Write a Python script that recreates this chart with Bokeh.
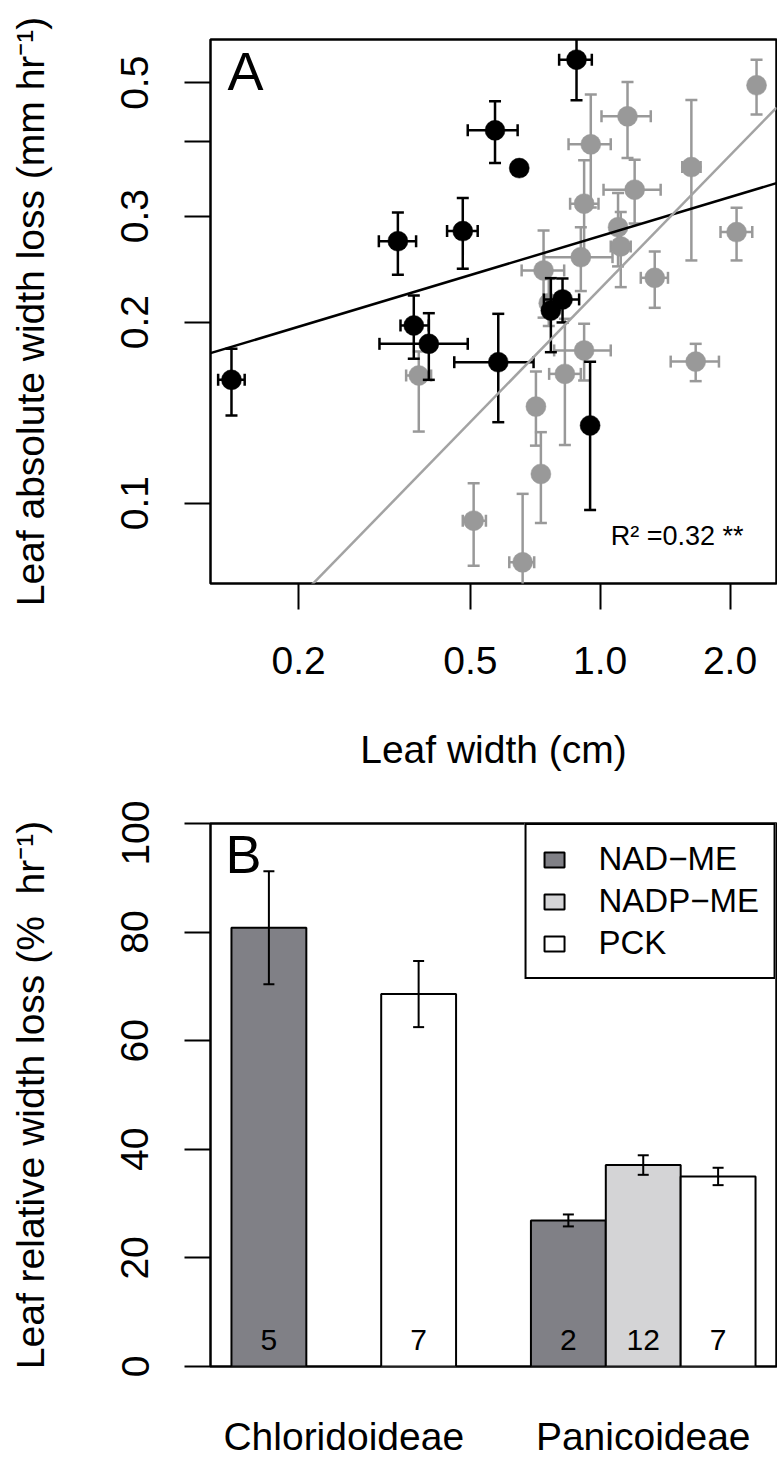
import math
from bokeh.plotting import figure
from bokeh.layouts import column
from bokeh.models import Range1d, FixedTicker, Label, Legend, LegendItem, ColumnDataSource
from bokeh.core.properties import value
from bokeh.embed import file_html
from bokeh.resources import INLINE

FONT = "Liberation Sans"

# ---------------- Panel A data ----------------
# Chloridoideae (black): leaf width (cm) and absolute width loss (mm/hr), with error limits
chl_width    = [0.1397, 0.3396, 0.4802, 0.5704, 0.6492, 0.8813, 0.3697, 0.4006, 0.5804, 0.8179, 0.7685, 0.9476]
chl_width_lo = [0.1301, 0.3068, 0.4416, 0.4931, None,   0.8032, 0.3444, 0.3078, 0.4589, 0.7404, None,   None]
chl_width_hi = [0.1499, 0.3743, 0.5200, 0.6436, None,   0.9563, 0.4006, 0.4931, 0.7007, 0.8936, None,   None]
chl_loss     = [0.1603, 0.2726, 0.2833, 0.4167, 0.3606, 0.5462, 0.1974, 0.1840, 0.1715, 0.2181, 0.2090, 0.1346]
chl_loss_lo  = [0.1398, 0.2397, 0.2453, 0.3676, None,   0.4674, 0.1738, 0.1603, 0.1363, 0.1997, 0.1782, 0.0974]
chl_loss_hi  = [0.1806, 0.3041, 0.3215, 0.4656, None,   0.6250, 0.2214, 0.2069, 0.2064, 0.2363, 0.2366, 0.1718]

# Panicoideae (grey)
pan_width    = [2.304, 1.157, 0.951, 1.627, 1.202, 0.9178, 2.071, 1.100, 1.116, 0.9018, 0.7391, 1.338,
                0.3797, 0.5089, 0.9178, 1.665, 0.8282, 0.7096, 0.7286, 0.6610, 0.7600]
pan_width_lo = [None, 1.007, 0.8446, 1.550, 1.018, 0.8517, 1.901, None, 1.058, 0.7415, 0.6575, 1.242,
                0.3549, 0.4802, 0.7821, 1.457, 0.7615, None, None, 0.6155, None]
pan_width_hi = [None, 1.310, 1.058, 1.709, 1.381, 0.9910, 2.252, None, 1.177, 1.068, 0.8251, 1.436,
                0.4055, 0.5434, 1.058, 1.885, 0.9018, None, None, 0.7031, None]
pan_loss     = [0.4952, 0.4396, 0.3949, 0.3620, 0.3320, 0.3147, 0.2822, 0.2876, 0.2672, 0.2564, 0.2437, 0.2369,
                0.1630, 0.0935, 0.1794, 0.1719, 0.1640, 0.1447, 0.1118, 0.0797, 0.2150]
pan_loss_lo  = [0.4426, 0.3748, 0.3100, 0.2532, 0.2918, 0.2580, 0.2532, 0.2475, 0.2286, 0.2252, 0.2034, 0.2112,
                0.1315, 0.0787, 0.1599, 0.1595, 0.1249, 0.1246, 0.0927, 0.0600, 0.1970]
pan_loss_hi  = [0.5462, 0.5015, 0.4778, 0.4681, 0.3724, 0.3715, 0.3099, 0.3277, 0.3048, 0.2876, 0.2840, 0.2621,
                0.1787, 0.1079, 0.1987, 0.1840, 0.2025, 0.1655, 0.1312, 0.1036, 0.2360]

# log10-log10 regression lines: log10(loss) = intercept + slope*log10(width)
fit_groups    = ["Chloridoideae", "Panicoideae"]
fit_intercept = [-0.556, -0.6435]
fit_slope     = [0.2155, 0.7366]
r2_text = "R\u00b2 =0.32 **"

x_ticks_a = [0.2, 0.5, 1.0, 2.0]
x_tick_labels_a = ["0.2", "0.5", "1.0", "2.0"]
y_ticks_a = [0.1, 0.2, 0.3, 0.4, 0.5]
y_tick_labels_a = ["0.1", "0.2", "0.3", "", "0.5"]

# ---------------- Panel B data ----------------
groups = ["Chloridoideae", "Panicoideae"]
types = ["NAD\u2212ME", "NADP\u2212ME", "PCK"]
rel_loss = {"Chloridoideae": [80.8, None, 68.6], "Panicoideae": [26.9, 37.1, 35.0]}
rel_err  = {"Chloridoideae": [10.4, None, 6.1], "Panicoideae": [1.1, 1.8, 1.6]}
n_species = {"Chloridoideae": [5, None, 7], "Panicoideae": [2, 12, 7]}
type_colors = ["#808086", "#d4d4d6", "#ffffff"]
y_ticks_b = [0, 20, 40, 60, 80, 100]

BLACK = "#000000"
GREY = "#999999"
GREY_LINE = "#a3a3a3"

def style_axes(p):
    for ax in p.axis:
        ax.axis_line_color = None
        ax.major_tick_line_color = BLACK
        ax.major_tick_line_width = 2
        ax.minor_tick_line_color = None
        ax.major_tick_in = 0
        ax.major_tick_out = 26
        ax.major_label_text_font = FONT
        ax.major_label_text_font_size = "39px"
        ax.major_label_text_color = BLACK
        ax.axis_label_text_font = FONT
        ax.axis_label_text_font_size = "39px"
        ax.axis_label_text_font_style = "normal"
        ax.axis_label_text_color = BLACK
    p.xgrid.grid_line_color = None
    p.ygrid.grid_line_color = None
    p.outline_line_color = BLACK
    p.outline_line_width = 2.5
    p.outline_line_alpha = 1.0
    p.background_fill_color = "white"
    p.border_fill_color = "white"

# ---------------- Panel A ----------------
xr_a = Range1d(0.1249, 2.563)
yr_a = Range1d(0.0735, 0.590)
pA = figure(width=777, height=800, x_axis_type="log", y_axis_type="log",
            x_range=xr_a, y_range=yr_a, output_backend="svg", toolbar_location=None,
            min_border_left=209, min_border_right=1, min_border_top=39, min_border_bottom=217)
style_axes(pA)
pA.xaxis.ticker = FixedTicker(ticks=x_ticks_a)
pA.xaxis.major_label_overrides = {t: l for t, l in zip(x_ticks_a, x_tick_labels_a)}
pA.yaxis.ticker = FixedTicker(ticks=y_ticks_a)
pA.yaxis.major_label_overrides = {t: l for t, l in zip(y_ticks_a, y_tick_labels_a)}
pA.yaxis.major_label_orientation = "vertical"
pA.xaxis.axis_label = "Leaf width (cm)"
pA.yaxis.axis_label = "Leaf absolute width loss (mm hr\u207b\u00b9)"
pA.xaxis.major_label_standoff = 37
pA.xaxis.axis_label_standoff = 51
pA.yaxis.major_label_standoff = 36
pA.yaxis.axis_label_standoff = 67

def draw_points(p, xs, xlo, xhi, ys, ylo, yhi, color):
    cap = 12
    lw = 2.5
    iy = [i for i in range(len(xs)) if ylo[i] is not None]
    ix = [i for i in range(len(xs)) if xlo[i] is not None]
    p.segment(x0=[xs[i] for i in iy], y0=[ylo[i] for i in iy], x1=[xs[i] for i in iy], y1=[yhi[i] for i in iy],
              line_color=color, line_width=lw)
    p.scatter(x=[xs[i] for i in iy] * 2, y=[ylo[i] for i in iy] + [yhi[i] for i in iy], marker="dash",
              size=cap, line_color=color, line_width=lw)
    p.segment(x0=[xlo[i] for i in ix], y0=[ys[i] for i in ix], x1=[xhi[i] for i in ix], y1=[ys[i] for i in ix],
              line_color=color, line_width=lw)
    p.scatter(x=[xlo[i] for i in ix] + [xhi[i] for i in ix], y=[ys[i] for i in ix] * 2, marker="dash",
              angle=math.pi / 2, size=cap, line_color=color, line_width=lw)
    p.scatter(x=xs, y=ys, size=20, fill_color=color, line_color=color, line_width=0.5)

draw_points(pA, pan_width, pan_width_lo, pan_width_hi, pan_loss, pan_loss_lo, pan_loss_hi, GREY)
draw_points(pA, chl_width, chl_width_lo, chl_width_hi, chl_loss, chl_loss_lo, chl_loss_hi, BLACK)

line_colors = [BLACK, GREY_LINE]
for b, m, c in zip(fit_intercept, fit_slope, line_colors):
    xs = [xr_a.start, xr_a.end]
    ys = [10 ** (b + m * math.log10(x)) for x in xs]
    pA.line(xs, ys, line_color=c, line_width=2.5)

pA.add_layout(Label(x=xr_a.start, y=yr_a.end, x_offset=17, y_offset=-1, text="A",
                    text_font=FONT, text_font_size="54px", text_baseline="top", text_color=BLACK))
pA.add_layout(Label(x=xr_a.end, y=yr_a.start, x_offset=-33, y_offset=48, text=r2_text,
                    text_font=FONT, text_font_size="27px", text_align="right",
                    text_baseline="alphabetic", text_color=BLACK))

# ---------------- Panel B ----------------
n_types = len(types)
group_gap = 1
pos = {}
for gi, g in enumerate(groups):
    pos[g] = [gi * (n_types + group_gap) + ti + 0.5 for ti in range(n_types)]
x_span = len(groups) * n_types + (len(groups) - 1) * group_gap
pad = 0.04 * x_span
pB = figure(width=777, height=663, x_range=Range1d(-pad, x_span + pad), y_range=Range1d(0, 100),
            output_backend="svg", toolbar_location=None,
            min_border_left=210, min_border_right=1, min_border_top=23, min_border_bottom=97)
style_axes(pB)
pB.yaxis.ticker = FixedTicker(ticks=y_ticks_b)
pB.yaxis.major_label_orientation = "vertical"
pB.yaxis.axis_label = "Leaf relative width loss (% \u00a0hr\u207b\u00b9)"
pB.yaxis.major_label_standoff = 36
pB.yaxis.axis_label_standoff = 67
group_centers = [sum(pos[g]) / n_types for g in groups]
pB.xaxis.ticker = FixedTicker(ticks=group_centers)
pB.xaxis.major_label_overrides = {c: g for c, g in zip(group_centers, groups)}
pB.xaxis.major_tick_out = 0
pB.xaxis.major_tick_line_color = None
pB.xaxis.major_label_standoff = 48

legend_items = []
for ti, t in enumerate(types):
    xs, tops, errs, ns = [], [], [], []
    for g in groups:
        v = rel_loss[g][ti]
        if v is None:
            continue
        xs.append(pos[g][ti]); tops.append(v); errs.append(rel_err[g][ti]); ns.append(str(n_species[g][ti]))
    src = ColumnDataSource(dict(x=xs, top=tops, lo=[a - e for a, e in zip(tops, errs)],
                                hi=[a + e for a, e in zip(tops, errs)], n=ns, zero=[0] * len(xs)))
    r = pB.vbar(x="x", top="top", bottom=0, width=1.0, source=src, fill_color=type_colors[ti],
                line_color=BLACK, line_width=2)
    pB.segment(x0="x", y0="lo", x1="x", y1="hi", source=src, line_color=BLACK, line_width=2)
    pB.scatter(x="x", y="lo", marker="dash", size=11, line_color=BLACK, line_width=2, source=src)
    pB.scatter(x="x", y="hi", marker="dash", size=11, line_color=BLACK, line_width=2, source=src)
    pB.text(x="x", y="zero", text="n", source=src, text_font=value(FONT), text_font_size="30px",
            text_align="center", text_baseline="alphabetic", y_offset=-27, text_color=BLACK)
    legend_items.append(LegendItem(label=t, renderers=[r]))

legend = Legend(items=legend_items, location="top_right", border_line_color=BLACK, border_line_width=2,
                border_line_alpha=1.0,
                background_fill_color="white", background_fill_alpha=1.0, margin=0, padding=15, spacing=4,
                glyph_width=25, glyph_height=19, label_standoff=32, label_text_font=FONT,
                label_text_font_size="33px", label_text_color=BLACK)
pB.add_layout(legend)
pB.add_layout(Label(x=-pad, y=100, x_offset=15, y_offset=0, text="B",
                    text_font=FONT, text_font_size="54px", text_baseline="top", text_color=BLACK))

layout = column(pA, pB, spacing=0)
open("out.html", "w").write(file_html(layout, INLINE))
